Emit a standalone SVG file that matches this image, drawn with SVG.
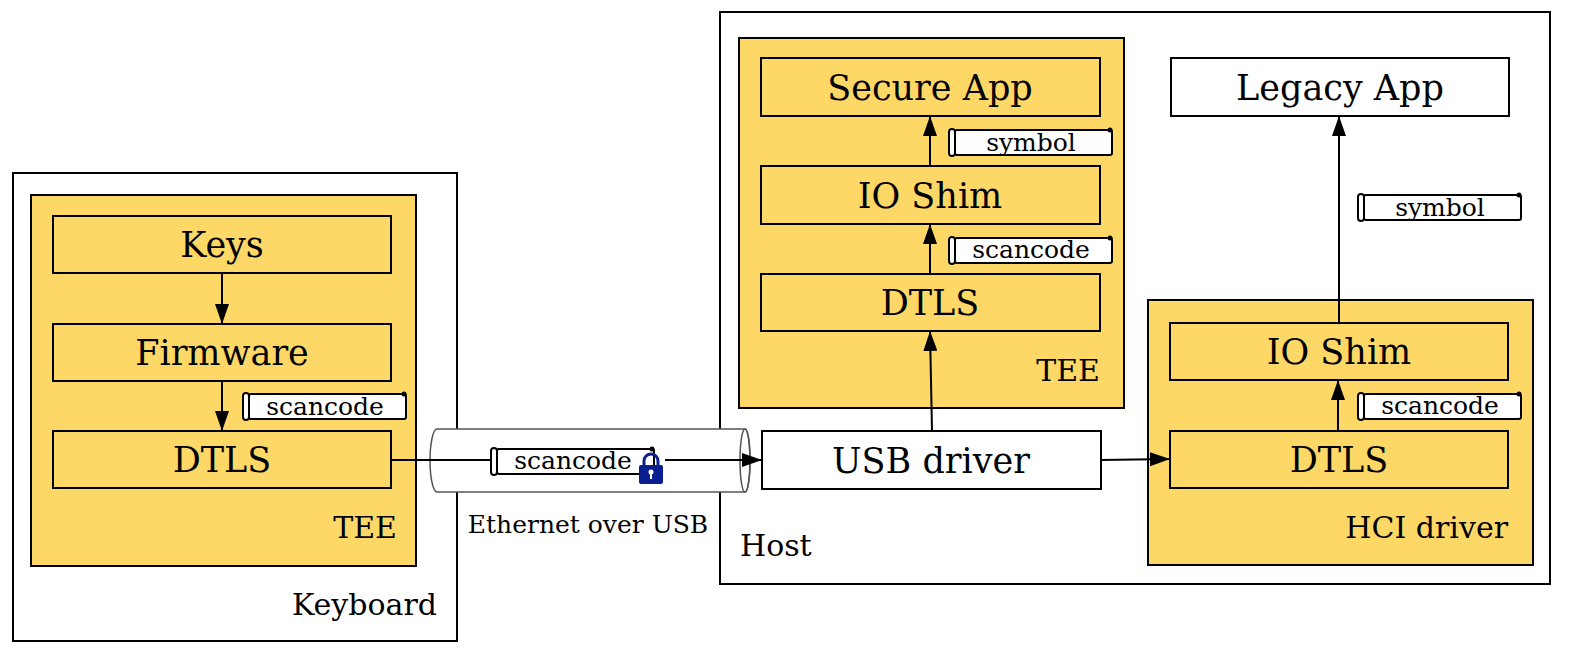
<svg xmlns="http://www.w3.org/2000/svg" width="1595" height="661" viewBox="0 0 1595 661">
<defs>
<style>
.c{fill:#fff;stroke:#000;stroke-width:2}
.y{fill:#fed866;stroke:#000;stroke-width:2}
.b{fill:#fed866;stroke:#000;stroke-width:2}
.w{fill:#fff;stroke:#000;stroke-width:2}
text{font-family:"DejaVu Serif","Liberation Serif",serif;fill:#000}
.t{font-size:35px;text-anchor:middle}
.s{font-size:25px;text-anchor:middle}
.l{font-size:30px}
.e{stroke:#000;stroke-width:2;fill:none}
</style>
<marker id="a2" viewBox="0 0 20 14" refX="20" refY="7" markerWidth="20" markerHeight="14" markerUnits="userSpaceOnUse" orient="auto"><path d="M0,0L20,7L0,14z"/></marker>
<symbol id="scroll" viewBox="0 0 164 30" width="164" height="30" overflow="visible">
<rect x="7" y="3" width="157" height="25" rx="2" fill="#fff" stroke="#000" stroke-width="2"/>
<rect x="1" y="2" width="6" height="27" rx="3" fill="#fff" stroke="#000" stroke-width="2"/>
<circle cx="162" cy="3" r="2.5" fill="#000"/>
</symbol>
</defs>
<rect width="1595" height="661" fill="#fff"/>
<g id="keyboard"><rect class="c" x="13" y="173" width="444" height="468"/><text class="l" x="437" y="615" text-anchor="end">Keyboard</text></g>
<g id="kb-tee"><rect class="y" x="31" y="195" width="385" height="371"/><text class="l" x="397" y="538" text-anchor="end">TEE</text></g>
<g id="keys"><rect class="b" x="53" y="216" width="338" height="57"/><text class="t" x="222" y="257">Keys</text></g>
<g id="firmware"><rect class="b" x="53" y="324" width="338" height="57"/><text class="t" x="222" y="365">Firmware</text></g>
<g id="kb-dtls"><rect class="b" x="53" y="431" width="338" height="57"/><text class="t" x="222" y="472">DTLS</text></g>
<g id="host"><rect class="c" x="720" y="12" width="830" height="572"/><text class="l" x="740" y="556">Host</text></g>
<g id="host-tee"><rect class="y" x="739" y="38" width="385" height="370"/><text class="l" x="1100" y="381" text-anchor="end">TEE</text></g>
<g id="secure-app"><rect class="b" x="761" y="58" width="339" height="58"/><text class="t" x="930" y="100">Secure App</text></g>
<g id="tee-ioshim"><rect class="b" x="761" y="166" width="339" height="58"/><text class="t" x="930" y="208">IO Shim</text></g>
<g id="tee-dtls"><rect class="b" x="761" y="274" width="339" height="57"/><text class="t" x="930" y="315">DTLS</text></g>
<g id="usb-driver"><rect class="w" x="762" y="431" width="339" height="58"/><text class="t" x="931" y="473">USB driver</text></g>
<g id="hci"><rect class="y" x="1148" y="300" width="385" height="265"/><text class="l" x="1508" y="538" text-anchor="end">HCI driver</text></g>
<g id="hci-ioshim"><rect class="b" x="1170" y="323" width="338" height="57"/><text class="t" x="1339" y="364">IO Shim</text></g>
<g id="hci-dtls"><rect class="b" x="1170" y="431" width="338" height="57"/><text class="t" x="1339" y="472">DTLS</text></g>
<g id="legacy-app"><rect class="w" x="1171" y="58" width="338" height="58"/><text class="t" x="1340" y="100">Legacy App</text></g>
<g id="tube">
<path d="M437,429H745A5,31.5 0 0 1 745,492H437A7,31.5 0 0 1 437,429Z" fill="#fff" stroke="#555" stroke-width="1.5"/>
<ellipse cx="745" cy="460.5" rx="5" ry="31.5" fill="none" stroke="#555" stroke-width="1.5"/>
<text x="588" y="533" font-size="25" text-anchor="middle">Ethernet over USB</text>
</g>
<g id="connectors">
<line class="e" x1="222" y1="273" x2="222" y2="324" marker-end="url(#a2)"/>
<line class="e" x1="222" y1="381" x2="222" y2="431" marker-end="url(#a2)"/>
<line class="e" x1="391" y1="460" x2="492" y2="460"/>
<line class="e" x1="665" y1="460" x2="762" y2="460" marker-end="url(#a2)"/>
<line class="e" x1="932" y1="431" x2="930" y2="331" marker-end="url(#a2)"/>
<line class="e" x1="930" y1="274" x2="930" y2="224" marker-end="url(#a2)"/>
<line class="e" x1="930" y1="166" x2="930" y2="116" marker-end="url(#a2)"/>
<line class="e" x1="1101" y1="460" x2="1170" y2="459" marker-end="url(#a2)"/>
<line class="e" x1="1338" y1="431" x2="1338" y2="380" marker-end="url(#a2)"/>
<line class="e" x1="1339" y1="323" x2="1339" y2="116" marker-end="url(#a2)"/>
</g>
<g id="labels">
<use href="#scroll" x="242" y="391"/><text class="s" x="325" y="415">scancode</text>
<use href="#scroll" x="490" y="446"/><text class="s" x="573" y="469">scancode</text>
<use href="#scroll" x="948" y="127"/><text class="s" x="1031" y="151">symbol</text>
<use href="#scroll" x="948" y="235"/><text class="s" x="1031" y="258">scancode</text>
<use href="#scroll" x="1357" y="192"/><text class="s" x="1440" y="216">symbol</text>
<use href="#scroll" x="1357" y="391"/><text class="s" x="1440" y="414">scancode</text>
<g id="lock"><path d="M644,466V461A7,7 0 0 1 658,461V466" fill="none" stroke="#0a1f8f" stroke-width="3"/><rect x="639" y="465" width="24" height="19" rx="2" fill="#0a1f8f"/><circle cx="651" cy="472" r="2.5" fill="#fff"/><rect x="650" y="472" width="2" height="7" fill="#fff"/></g>
</g>
</svg>
